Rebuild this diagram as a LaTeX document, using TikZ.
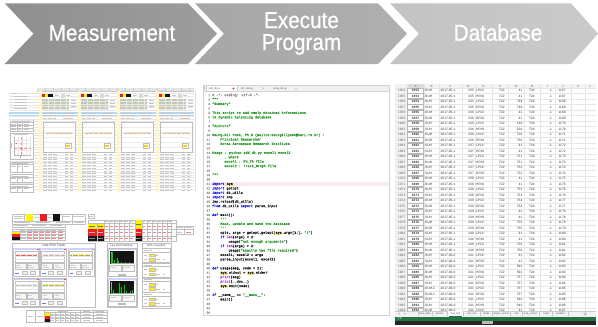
\documentclass[tikz,border=0pt]{standalone}
\usepackage{fontspec}
\setmainfont{Liberation Sans}
\newfontfamily\chevfont[FakeStretch=0.9,FakeBold=0.6]{Liberation Sans}
\newfontfamily\codefont[FakeBold=0.4]{Liberation Mono}
\newfontfamily\krfont{Noto Sans CJK KR}

% chevron tones
\definecolor{chevAL}{HTML}{8F8F8F}
\definecolor{chevAR}{HTML}{9D9D9D}
\definecolor{chevBL}{HTML}{A7A7A7}
\definecolor{chevBR}{HTML}{AFAFAF}
\definecolor{chevCL}{HTML}{C3C3C3}
\definecolor{chevCR}{HTML}{CACACA}
% editor syntax colours
\definecolor{pygreen}{HTML}{2A982A}
\definecolor{pyblue}{HTML}{1818D0}
\definecolor{pypurple}{HTML}{A030C8}
\definecolor{pygray}{HTML}{808080}
\definecolor{hlyellow}{HTML}{F4EE80}
\definecolor{curline}{HTML}{FBE8F3}
% spreadsheet colours
\definecolor{xlgreen}{HTML}{217346}
\definecolor{gridcol}{HTML}{E6E6E6}
\definecolor{hdrc}{HTML}{F2F2F2}
\definecolor{cellY}{HTML}{FFF200}
\definecolor{cellR}{HTML}{EE1C24}
\definecolor{cellK}{HTML}{141414}
\definecolor{paleyellow}{HTML}{FFF7C8}
\definecolor{paleblue}{HTML}{B3D9F2}
\definecolor{olivebox}{HTML}{C4C8B8}
\definecolor{dotbrown}{HTML}{B8782E}

\newcommand\kw[1]{\textcolor{pyblue}{#1}}
\newcommand\stg[1]{\textcolor{pygreen}{#1}}
\newcommand\bif[1]{\textcolor{pypurple}{#1}}
\newcommand\hsys{{\setlength{\fboxsep}{0.2pt}\colorbox{hlyellow}{sys}}}
\newcommand\pyline[3]{\node[pycode,anchor=base west] (py#1) at ({212+2.04*#2},{96.1+4.44*(#1-1)}) {#3};}

\tikzset{
  chevtext/.style={text=white, inner sep=0pt, font=\chevfont\fontsize{23}{22}\selectfont},
  pycode/.style={inner sep=0pt, text=black!90, font=\codefont\fontsize{3.4}{4.4}\selectfont},
  lnum/.style={inner sep=0pt, anchor=base east, text=gray!80, font=\codefont\fontsize{3}{4}\selectfont},
  xl/.style={inner sep=0pt, text=black!80, font=\fontsize{3.2}{4}\selectfont},
  xlhead/.style={inner sep=0pt, text=gray!70!black, font=\fontsize{3}{4}\selectfont},
  tabtxt/.style={inner sep=0pt, font=\fontsize{2.5}{3}\selectfont, text=gray!70!black},
  smalltitle/.style={inner sep=0pt, font=\fontsize{3.3}{4}\selectfont, text=black!75},
  txtbar/.style={draw=gray!45, line width=0.8pt},
  redtxt/.style={draw=red!50, line width=0.7pt},
  hair/.style={draw=gray!50, line width=0.25pt},
  gridln/.style={draw=gridcol, line width=0.25pt},
  pics/rsswin/.style={code={
    \fill[white] (0,0) rectangle (26,28);
    \draw[hair] (0,0) rectangle (26,28);
    \fill[blue!18] (0,0) rectangle (26,1.6);
    \fill[red!70] (23.8,0.3) rectangle (25.6,1.3);
    \draw[hair, fill=white] (1.5,3) rectangle (24.5,13.5);
    \foreach \gy in {5.5,8,10.5} \draw[gray!20, line width=0.2pt] (1.5,\gy) -- (24.5,\gy);
    \draw[#1, line width=0.5pt, dash pattern=on 0.7pt off 0.5pt] (2.5,7) -- (23.5,7);
    \draw[hair, fill=gray!6] (1.5,15) rectangle (12.5,21);
    \draw[hair, fill=gray!6] (13.5,15) rectangle (24.5,21);
    \draw[draw=gray!35, line width=0.6pt] (2.5,17) -- (7,17) (14.5,17) -- (19,17) (2.5,19.3) -- (9,19.3) (14.5,19.3) -- (21,19.3);
    \draw[blue!55, line width=0.6pt] (1.8,24.5) -- (5.5,24.5);
    \draw[hair, fill=gray!12] (8.5,23) rectangle (13.5,26);
    \draw[hair, fill=gray!12] (17,23) rectangle (22,26);
  }},
  pics/vibwin/.style={code={
    \fill[white] (0,0) rectangle (27.5,28);
    \draw[hair] (0,0) rectangle (27.5,28);
    \fill[blue!18] (0,0) rectangle (27.5,1.6);
    \fill[black!92] (1.3,2.6) rectangle (26.2,15.4);
    \draw[gray!70, line width=0.15pt] (2.5,14.5) -- (25.5,14.5) (2.5,14.5) -- (2.5,3.5);
    \draw[hair, fill=gray!6] (1.3,17) rectangle (13,22.5);
    \draw[hair, fill=gray!6] (14,17) rectangle (26.2,22.5);
    \draw[draw=gray!35, line width=0.6pt] (2.5,19) -- (8,19) (15,19) -- (22,19);
    \fill[gray!55] (9.5,25) rectangle (18,27);
  }},
  pics/lpbox/.style={code={
    \draw[hair, fill=white] (0,0) rectangle (27.4,14);
    \draw[txtbar, line width=0.6pt] (1.5,1.8) -- (9,1.8);
    \draw[hair] (0,3.2) -- (27.4,3.2);
    \draw[txtbar, line width=0.6pt] (1.5,6.5) -- (4.5,6.5) (1.5,11) -- (4.5,11);
    \draw[hair, fill=cellY] (6.5,5.2) rectangle (13,7.8);
    \draw[hair, fill=cellY] (6.5,9.7) rectangle (13,12.3);
    \draw[txtbar, line width=0.5pt] (13.5,6.5) -- (15,6.5) (13.5,11) -- (17,11) (20,11) -- (22,11);
  }},
}

\begin{document}
\begin{tikzpicture}[x=1pt,y=-1pt]
\useasboundingbox (0,0) rectangle (598,327);
\fill[white] (0,0) rectangle (598,327);

% ================= process chevrons =================
\shade[left color=chevAL, right color=chevAR]
  (4.7,3.3) -- (188,3.3) -- (217,33.7) -- (188,64) -- (4.7,64) -- (33.5,33.7) -- cycle;
\shade[left color=chevBL, right color=chevBR]
  (195,3.3) -- (378,3.3) -- (407,33.7) -- (378,64) -- (195,64) -- (224,33.7) -- cycle;
\shade[left color=chevCL, right color=chevCR]
  (390,3.3) -- (571,3.3) -- (598,33.7) -- (571,64) -- (390,64) -- (419,33.7) -- cycle;
\node[chevtext, anchor=base] (meas) at (112,40.7) {Measurement};
\node[chevtext, align=center] (exec) at (301.5,33.5) {Execute\\Program};
\node[chevtext, anchor=base] (dbase) at (498,40.7) {Database};

% ================= measurement workbook (top) =================
\fill[white] (9,88) rectangle (193.5,192);
\foreach \gy in {93.5,96.3,...,191} \draw[gridln] (9,\gy) -- (193.5,\gy);
\fill[gray!20] (37,88) rectangle (193.5,91);
\draw[gray!45, line width=0.3pt] (37,91) -- (193.5,91);
\foreach \gx in {45,53,...,190} \draw[gray!40, line width=0.2pt] (\gx,88) -- (\gx,91);
% legend
\draw[txtbar] (11,93.3) -- (17,93.3);
\foreach \gy in {96,99,102,105,108} {
  \fill[gray!55] (11.8,\gy) circle (0.55);
  \draw[txtbar] (14,\gy) -- (27,\gy);
}
% selection band
\fill[paleblue] (9,112.2) rectangle (193.5,113.6);
\fill[paleblue] (9,114.6) rectangle (193.5,116);
% balance table
\draw[hair, fill=white] (10,120) rectangle (33,131);
\fill[gray!18] (10.1,120.1) rectangle (32.9,122.5);
\draw[txtbar] (12,121.3) -- (30,121.3);
\foreach \gy in {122.5,125.3,128.1} \draw[hair] (10,\gy) -- (33,\gy);
\draw[hair] (17,122.5) -- (17,131) (22,122.5) -- (22,131);
\foreach \gy in {123.9,126.7,129.5} \draw[txtbar] (11,\gy) -- (15.5,\gy) (18,\gy) -- (20.5,\gy) (24,\gy) -- (29,\gy);
% polar scatter
\draw[hair, fill=white] (10,133) rectangle (33,159);
\draw[txtbar] (14,134.8) -- (28,134.8);
\foreach \gy in {140,143.5,147,150.5} \draw[gray!18, line width=0.2pt] (14,\gy) -- (31,\gy);
\foreach \gx in {18,22,26,30} \draw[gray!18, line width=0.2pt] (\gx,137) -- (\gx,155);
\draw[gray!55, line width=0.25pt] (14,137) -- (14,155) -- (31,155);
\draw[red!45, line width=0.25pt, densely dashed] (14,148.3) -- (31,148.3) (20.7,137) -- (20.7,155);
\fill[red!85] (16.2,143.5) circle (0.55);
\fill[red!85] (21.5,148.8) circle (0.5);
\fill[red!70] (22.6,149.6) circle (0.4);
\draw[txtbar, line width=0.6pt] (11.5,143) -- (11.5,148);
\fill[gray!75] (20.2,156.3) rectangle (21.4,157.8);
% small summary tables
\foreach \ty/\tb in {162/172.5,174.5/182.5,184.5/192} {
  \draw[hair, fill=white] (10,\ty) rectangle (33,\tb);
  \draw[txtbar] (11.5,{\ty+1.4}) -- (28,{\ty+1.4});
  \draw[hair] (10,{\ty+2.6}) -- (33,{\ty+2.6}) (17,{\ty+2.6}) -- (17,\tb) (22,{\ty+2.6}) -- (22,\tb);
  \draw[txtbar] (11,{\ty+4.3}) -- (15.5,{\ty+4.3}) (18,{\ty+4.3}) -- (20.5,{\ty+4.3}) (24,{\ty+4.3}) -- (29,{\ty+4.3});
}
% four measurement blocks
\foreach \bx in {39.3,78.3,117.3,156.3} {
  \fill[paleyellow] (\bx,91) rectangle ({\bx+2.7},192);
  \draw[gray!25, line width=0.25pt] ({\bx+38.6},91) -- ({\bx+38.6},192);
  \fill[cellR] ({\bx+3},93.8) rectangle ({\bx+5.6},96.6);
  \fill[cellY] ({\bx+5.6},93.8) rectangle ({\bx+8.2},96.6);
  \fill[cellK] ({\bx+8.2},93.8) rectangle ({\bx+14},96.6);
  \draw[txtbar] ({\bx+16},95.2) -- ({\bx+20},95.2) ({\bx+27},95.2) -- ({\bx+31},95.2);
  \fill[green!25!gray!30] ({\bx+22},93.5) rectangle ({\bx+25.5},97.5);
  \fill[olivebox] ({\bx+3},99) rectangle ({\bx+30},110.3);
  \foreach \gy in {101.5,104,106.5,109} \draw[white!60!olivebox, line width=0.2pt] ({\bx+3},\gy) -- ({\bx+30},\gy);
  \foreach \gx in {9,15,21,27} \draw[white!60!olivebox, line width=0.2pt] ({\bx+\gx},99) -- ({\bx+\gx},110.3);
  \draw[txtbar] ({\bx+32},100.5) -- ({\bx+36.5},100.5) ({\bx+32},103.3) -- ({\bx+36.5},103.3) ({\bx+32},106.1) -- ({\bx+36.5},106.1);
  \foreach \gy in {113.1,115.3,118.2} \draw[txtbar] ({\bx+3.5},\gy) -- ({\bx+7.5},\gy) ({\bx+8.5},\gy) -- ({\bx+12.5},\gy) ({\bx+13.5},\gy) -- ({\bx+17},\gy) ({\bx+24},\gy) -- ({\bx+34},\gy);
  \draw[hair, fill=white] ({\bx+4},121.7) rectangle ({\bx+35.7},151.7);
  \foreach \gy in {127,132,137,142,147} {
    \draw[gray!15, line width=0.2pt] ({\bx+6.5},\gy) -- ({\bx+34.5},\gy);
    \draw[gray!40, line width=0.5pt] ({\bx+4.8},\gy) -- ({\bx+6},\gy);
  }
  \foreach \i in {0,...,26} \fill[dotbrown] ({\bx+7+\i},{133.3+0.35*sin(\i*77)}) circle (0.42);
  \draw[hair, fill=white] ({\bx+26},143.3) rectangle ({\bx+31.5},148.5);
  \fill[cellY!70!orange] ({\bx+27},145) rectangle ({\bx+30.5},146.7);
  \foreach \r in {0,...,13} {
    \pgfmathsetmacro\ry{154.2+2.8*\r}
    \draw[txtbar] ({\bx+3.5},\ry) -- ({\bx+7.5},\ry) ({\bx+8.5},\ry) -- ({\bx+12.5},\ry) ({\bx+13.5},\ry) -- ({\bx+17.5},\ry) ({\bx+26},\ry) -- ({\bx+29},\ry) ({\bx+31},\ry) -- ({\bx+34},\ry);
  }
}

% ================= measurement report (bottom) =================
% status table
\draw[hair, fill=white] (12.3,214.3) rectangle (85,224);
\fill[cellY] (25.7,214.3) rectangle (33.3,221);
\fill[cellR] (40,214.3) rectangle (46.7,221);
\fill[cellK] (53.3,214.3) rectangle (60,221);
\draw[hair] (12.3,221) -- (85,221) (24.3,214.3) -- (24.3,221) (61.7,214.3) -- (61.7,221) (71.7,214.3) -- (71.7,224);
\draw[txtbar] (14,216.3) -- (23,216.3) (14,218.8) -- (22,218.8) (34.5,217.6) -- (38.5,217.6) (48,217.6) -- (52,217.6)
  (63,216.5) -- (70,216.5) (73,216.5) -- (83.5,216.5) (14,222.5) -- (30,222.5) (36,222.5) -- (50,222.5) (56,222.5) -- (70,222.5) (74,222.5) -- (83,222.5);
\draw[hair, fill=white] (12.3,224) rectangle (65,226.7);
\draw[txtbar, line width=0.6pt] (14,225.35) -- (28,225.35) (32,225.35) -- (46,225.35) (50,225.35) -- (62,225.35);
\draw[hair, fill=white] (87.7,214.3) rectangle (94.3,218);
\draw[txtbar] (89,216.1) -- (93,216.1);
% grade table (left)
\draw[hair, fill=white] (12.3,229) rectangle (65,240);
\fill[cellY] (12.3,231.3) rectangle (20,234.2);
\fill[cellR] (12.3,234.2) rectangle (20,237.1);
\fill[cellK] (12.3,237.1) rectangle (20,240);
\draw[hair] (12.3,231.3) -- (65,231.3);
\foreach \gx in {20,27,33,39,45,51,58} \draw[hair] (\gx,229) -- (\gx,240);
\foreach \gy in {234.2,237.1} \draw[hair] (20,\gy) -- (65,\gy);
\foreach \gx in {21,28,34,40,46,52,59} \draw[txtbar, line width=0.6pt] (\gx,230.15) -- ({\gx+4},230.15);
\foreach \gy in {232.75,235.65,238.55} {
  \draw[txtbar, line width=0.6pt] (21,\gy) -- (25.5,\gy);
  \foreach \gx in {28,34,40,46,52,59} \draw[redtxt, line width=0.6pt] (\gx,\gy) -- ({\gx+3.5},\gy);
}
% grade table (right)
\draw[hair, fill=white] (87.7,220) rectangle (175.7,241);
\fill[cellY] (87.7,223) rectangle (104,229);
\fill[cellR] (87.7,229) rectangle (104,236);
\fill[cellK] (87.7,236) rectangle (104,241);
\fill[cellY] (135,220) rectangle (141.7,229);
\fill[cellR] (135,229) rectangle (141.7,236);
\fill[cellK] (135,236) rectangle (141.7,241);
\draw[hair] (87.7,223) -- (135,223) (141.7,223) -- (175.7,223) (96.7,223) -- (96.7,241);
\foreach \gx in {104,109,114,119,124,129,135,141.7,147,152,157,162,167,171.5} \draw[hair] (\gx,220) -- (\gx,241);
\foreach \gy in {229,236} \draw[hair] (104,\gy) -- (135,\gy) (141.7,\gy) -- (175.7,\gy);
\foreach \gx in {104,109,114,119,124,129,141.7,147,152,157,162,167} \draw[txtbar, line width=0.6pt] ({\gx+1},221.5) -- ({\gx+3.5},221.5);
\foreach \gy in {226,232.5,238.5} \foreach \gx in {104,109,114,119,124,129,141.7,147,152,157,162,167} \draw[redtxt, line width=0.6pt] ({\gx+1},\gy) -- ({\gx+3.5},\gy);
\draw[draw=black!55, line width=0.7pt] (89,226) -- (95,226) (98,226) -- (102.5,226) (136,224.5) -- (140.5,224.5);
\draw[draw=white!70!red, line width=0.7pt] (89,232.5) -- (95,232.5) (98,232.5) -- (102.5,232.5) (136,232.5) -- (140.5,232.5);
\draw[draw=white!55!black, line width=0.7pt] (89,238.5) -- (95,238.5) (98,238.5) -- (102.5,238.5) (136,238.5) -- (140.5,238.5);
% spare table
\draw[hair, fill=white] (175.7,226) rectangle (193,234);
\draw[hair] (175.7,229.5) -- (193,229.5) (184,226) -- (184,234);
\draw[txtbar, line width=0.6pt] (177,227.7) -- (182.5,227.7) (185.5,227.7) -- (191.5,227.7) (177,231.8) -- (182,231.8);
\draw[redtxt, line width=0.6pt] (186,231.8) -- (191,231.8);
% track windows
\draw[hair, fill=white] (12.3,243.3) rectangle (95,307);
\node[smalltitle] (rsstitle) at (53.7,245.8) {Low RSS Track};
\pic at (13.3,248.3) {rsswin=red!65};
\pic at (40,248.3) {rsswin=red!30!gray!50};
\pic at (67.7,248.3) {rsswin=olive!60!yellow};
\pic at (13.3,278.5) {rsswin=gray!45};
\pic at (40,278.5) {rsswin=olive!50!yellow};
% vibration windows
\draw[hair, fill=white] (106.7,243.3) rectangle (136.7,307);
\node[smalltitle, font=\fontsize{2.7}{3}\selectfont] (vibtitle) at (121.7,245.8) {Low pitch Vibration};
\pic at (108.2,248.5) {vibwin};
\pic at (108.2,278.3) {vibwin};
\foreach \px/\ph in {111/9,112/11,114/3,116.5/5,118/2,121/1.5,125/1.2,129/1} \fill[green!80!black] (\px,263) rectangle ({\px+0.7},{263-\ph});
\foreach \px/\ph in {110.5/3,113/2.5,119/10,120.5/6,124/8,126/2,130/1.5,132/3} \fill[green!80!black] (\px,292.8) rectangle ({\px+0.7},{292.8-\ph});
% pitch adjustment boxes
\draw[hair, fill=white] (141.7,243.3) rectangle (170.7,308);
\node[smalltitle, font=\fontsize{2.8}{3}\selectfont] (lptitle) at (156.2,245.8) {1P/L Low pitch};
\foreach \gy in {248.5,263.2,277.9,292.6} \pic at (142.5,\gy) {lpbox};
% result table
\draw[hair, fill=white] (25.7,310) rectangle (106.7,321.7);
\fill[cellY] (44.3,312.5) rectangle (50,315.5);
\fill[cellR] (44.3,315.5) rectangle (50,318.6);
\fill[cellK] (44.3,318.6) rectangle (50,321.7);
\draw[hair] (35,310) -- (35,321.7) (44.3,310) -- (44.3,321.7) (50,312.5) -- (50,321.7) (80,310) -- (80,321.7) (93,310) -- (93,321.7) (44.3,312.5) -- (106.7,312.5);
\foreach \gx in {55,60,65,70,75} \draw[hair] (\gx,312.5) -- (\gx,321.7);
\foreach \gy in {315.5,318.6} \draw[hair] (50,\gy) -- (106.7,\gy);
\draw[txtbar, line width=0.6pt] (27.5,316) -- (33,316) (36.5,316) -- (42.5,316) (58,311.2) -- (68,311.2) (83,311.2) -- (90,311.2) (95,311.2) -- (104,311.2);
\foreach \gy in {314,317.05,320.15} {
  \foreach \gx in {51,56,61,66,71,76} \draw[txtbar, line width=0.6pt] (\gx,\gy) -- ({\gx+3},\gy);
  \draw[txtbar, line width=0.6pt] (83,\gy) -- (90,\gy) (96,\gy) -- (103,\gy);
}

% ================= python editor =================
\fill[white] (203,85) rectangle (389,315);
\fill[gray!12] (203,85) rectangle (389,91);
\fill[gray!55] (203.6,87.4) rectangle (205,89.4);
\fill[white] (206,85.6) rectangle (237,91);
\draw[gray!40, line width=0.25pt] (206,91) -- (206,85.6) -- (237,85.6) -- (237,91);
\node[tabtxt, anchor=west] (tabA) at (208.5,88.4) {add\_db.py};
\fill[red!75] (233.5,88.4) circle (1.1);
\node[tabtxt, anchor=west] (tabB) at (241,88.4) {db\_utils.py};
\draw[gray!60, line width=0.25pt] (263,88.4) circle (0.9);
\node[tabtxt, anchor=west] (tabC) at (273,88.4) {using\_db.py};
\draw[gray!60, line width=0.25pt] (296,88.4) circle (0.9);
\draw[gray!35, line width=0.3pt] (203,91) -- (389,91);
\fill[curline] (211,181.6) rectangle (388.5,186);
\draw[gray!35, line width=0.3pt] (203,85) rectangle (389,315);
\foreach \n in {1,...,50} \node[lnum] (ln\n) at (210.3,{96.1+4.44*(\n-1)}) {\n};
\pyline{1}{0}{\textcolor{pygray}{\# -*- coding: utf-8 -*-}}
\pyline{2}{0}{\stg{"""}}
\pyline{3}{0}{\stg{"Summary"}}
\pyline{5}{0}{\stg{This script to add newly obtained informations}}
\pyline{6}{0}{\stg{to dynamic balancing database}}
\pyline{8}{0}{\stg{"Authors"}}
\pyline{10}{0}{\stg{Seung-Kil Paek, Ph.D (mailto:seungkilpaek@kari.re.kr) :}}
\pyline{11}{4}{\stg{Principal Researcher}}
\pyline{12}{4}{\stg{Korea Aerospace Research Institute}}
\pyline{14}{0}{\stg{Usage : python add\_db.py excel1 excel2}}
\pyline{15}{6}{\stg{, where}}
\pyline{16}{6}{\stg{excel1 : PH\_TR file}}
\pyline{17}{6}{\stg{excel2 : Track\_Graph file}}
\pyline{19}{0}{\stg{"""}}
\pyline{21}{0}{\kw{import} \hsys}
\pyline{22}{0}{\kw{import} getopt}
\pyline{23}{0}{\kw{import} db\_utils}
\pyline{24}{0}{\kw{import} imp}
\pyline{25}{0}{imp.reload(db\_utils)}
\pyline{26}{0}{\kw{from} db\_utils \kw{import} parse\_input}
\pyline{28}{0}{\kw{def} main():}
\pyline{29}{4}{\stg{'{}'{}'}}
\pyline{30}{4}{\stg{Read, update and save the database}}
\pyline{31}{4}{\stg{'{}'{}'}}
\pyline{32}{4}{opts, args = getopt.getopt(\hsys.argv[1:], \stg{"i"})}
\pyline{33}{4}{\kw{if} \bif{len}(args) < 2:}
\pyline{34}{8}{usage(\stg{"not enough arguments"})}
\pyline{35}{4}{\kw{if} \bif{len}(args) > 2:}
\pyline{36}{8}{usage(\stg{"exactly two file required"})}
\pyline{37}{4}{excel1, excel2 = args}
\pyline{38}{4}{parse\_input(excel1, excel2)}
\pyline{40}{0}{\kw{def} usage(msg, code = 2):}
\pyline{41}{4}{\hsys.stdout = \hsys.stderr}
\pyline{42}{4}{\bif{print}(msg)}
\pyline{43}{4}{\bif{print}(\_\_doc\_\_)}
\pyline{44}{4}{\hsys.exit(code)}
\pyline{46}{0}{\kw{if} \_\_name\_\_ == \stg{"\_\_main\_\_"}:}
\pyline{47}{4}{main()}

% ================= database worksheet =================
\fill[white] (395,84) rectangle (596,324.5);
\fill[hdrc] (395,84) rectangle (596,87.75);
\fill[hdrc] (395,84) rectangle (407,311);
\fill[gray!28] (407,84) rectangle (424,87.75);
\foreach \gy in {87.75,93.25,...,311} \draw[gridln] (395,\gy) -- (596,\gy);
\foreach \gx in {407,424,439,462,475,492,508,524,540,555,571,585} \draw[gridln] (\gx,84) -- (\gx,311);
\draw[xlgreen, line width=0.45pt] (407,87.75) -- (424,87.75);
\foreach \L/\cx in {A/415.5,B/431.5,C/450.5,D/468.5,E/483.5,F/500,G/516,H/532,I/547.5,J/563,K/578,L/590.5}
  \node[xlhead] (hdr\L) at (\cx,86) {\L};
\foreach \k/\vb/\vc/\vd/\ve/\vg in {
  0/DUH/2017-05-1/235/LP10/41, 1/DUH/2017-05-1/235/HP10/41,
  2/SUH/2017-05-1/235/LP10/749, 3/SUH/2017-05-1/235/HP10/749,
  4/DUH/2017-05-1/236/LP10/41, 5/DUH/2017-05-1/236/HP10/41,
  6/SUH/2017-05-1/236/LP10/139, 7/SUH/2017-05-1/236/HP10/139,
  8/DUH/2017-05-1/236/LP10/750, 9/DUH/2017-05-1/236/HP10/750,
  10/SUH/2017-05-1/237/LP10/41, 11/SUH/2017-05-1/237/HP10/41,
  12/DUH/2017-05-1/237/LP10/751, 13/DUH/2017-05-1/237/HP10/751,
  14/SUH/2017-05-1/237/LP10/752, 15/SUH/2017-05-1/237/HP10/752,
  16/DUH/2017-05-1/238/LP10/41, 17/DUH/2017-05-1/238/HP10/41,
  18/SUH/2017-05-1/238/LP10/753, 19/SUH/2017-05-1/238/HP10/753,
  20/DUH/2017-05-1/239/LP10/754, 21/DUH/2017-05-1/239/HP10/754,
  22/SUH/2017-05-1/239/LP10/41, 23/SUH/2017-05-1/239/HP10/41,
  24/DUH/2017-05-1/239/LP10/755, 25/DUH/2017-05-1/239/HP10/755,
  26/SUH/2017-05-1/240/LP10/41, 27/SUH/2017-05-1/240/HP10/41,
  28/DUH/2017-05-1/240/LP10/756, 29/DUH/2017-05-1/240/HP10/756,
  30/SUH/2017-06-0/241/LP10/41, 31/SUH/2017-06-0/241/HP10/41,
  32/DUH/2017-06-0/241/LP10/591, 33/DUH/2017-06-0/241/HP10/591,
  34/SUH/2017-06-0/241/LP10/757, 35/SUH/2017-06-0/241/HP10/757,
  36/DUH-1/2017-06-0/241/LP10/757, 37/DUH-1/2017-06-0/241/HP10/757,
  38/SUH/2017-06-0/241/LP10/543, 39/SUH/2017-06-0/241/HP10/543,
  40/DUH/2017-06-0/241/LP10/41} {
  \pgfmathsetmacro\yb{91.65+5.5*\k}
  \pgfmathsetmacro\yt{87.75+5.5*\k}
  \pgfmathtruncatemacro\rn{1954+\k}
  \pgfmathtruncatemacro\an{1852+\k}
  \pgfmathtruncatemacro\jn{1167+floor(\k/2)}
  \draw[gray!55, line width=0.3pt] (407.4,{\yt+0.3}) rectangle (423.6,{\yt+5.2});
  \node[xl, anchor=base east, text=gray!75!black] (r\rn) at (405.5,\yb) {\rn};
  \node[xl, anchor=base, font=\bfseries\fontsize{3.2}{4}\selectfont] (a\rn) at (415.5,\yb) {\an};
  \node[xl, anchor=base west] (b\rn) at (425,\yb) {\vb};
  \node[xl, anchor=base west] (c\rn) at (440.5,\yb) {\vc};
  \node[xl, anchor=base east] (d\rn) at (474,\yb) {\vd};
  \node[xl, anchor=base west] (e\rn) at (476,\yb) {\ve};
  \node[xl, anchor=base west] (f\rn) at (499,\yb) {T22};
  \node[xl, anchor=base east] (g\rn) at (522.5,\yb) {\vg};
  \node[xl, anchor=base west] (h\rn) at (529,\yb) {T24};
  \node[xl, anchor=base east] (i\rn) at (552,\yb) {-1};
  \node[xl, anchor=base west] (j\rn) at (558.5,\yb) {\jn};
}
% sheet tabs
\fill[hdrc] (395,311) rectangle (596,316.5);
\draw[gray!40, line width=0.25pt] (395,311) -- (596,311);
\fill[gray!60] (398,313.75) -- (399.5,312.8) -- (399.5,314.7) -- cycle;
\fill[gray!60] (405.5,313.75) -- (404,312.8) -- (404,314.7) -- cycle;
\node[tabtxt] (dots) at (411,313.5) {...};
\fill[white] (448,311) rectangle (463,316.5);
\draw[xlgreen, line width=0.5pt] (449,316.1) -- (462,316.1);
\foreach \t/\tx [count=\ti] in {Raw\_data/425,sensor/439.5,test\_trial/455.5,test\_info/472,blade/486.5,blade\_control/501.5,hub/516.5,hub\_control/530.5,team/546.5,weather/560.5}
  \node[tabtxt] (tab\ti) at (\tx,313.75) {\t};
\foreach \sx in {418,432.5,447.5,463.5,480.5,492.5,510.5,522.5,539,552,568} \draw[gray!45, line width=0.2pt] (\sx,311.8) -- (\sx,315.7);
\draw[gray!55, line width=0.25pt] (585,313.75) circle (1.5);
\draw[gray!60, line width=0.25pt] (584.2,313.75) -- (585.8,313.75) (585,312.95) -- (585,314.55);
% status bar
\fill[xlgreen] (395,316.5) rectangle (596,320.7);
\node[inner sep=0pt, anchor=west, text=white, font=\krfont\fontsize{2.4}{3}\selectfont] (ready) at (397.5,318.6) {준비};
\fill[black!85] (395,320.7) rectangle (596,324.5);
\fill[gray!55] (482,321.3) rectangle (493,324);
\end{tikzpicture}
\end{document}
